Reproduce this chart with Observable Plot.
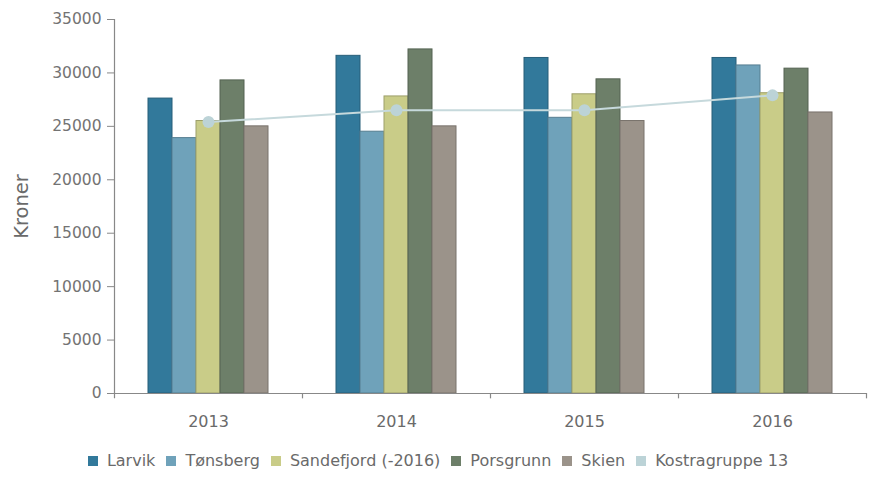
<!DOCTYPE html>
<html>
<head>
<meta charset="utf-8">
<script src="https://cdn.jsdelivr.net/npm/d3@7"></script>
<script src="https://cdn.jsdelivr.net/npm/@observablehq/plot@0.6"></script>
<style>
  body { margin: 0; background: #fff; font-family: "DejaVu Sans", sans-serif; }
  #chart svg { display: block; }
  #legend { display: flex; justify-content: center; align-items: center; gap: 11px; font-size: 16px; line-height: 18px; color: #6a6a6a; margin-top: 12px; }
  #legend .item { display: flex; align-items: center; gap: 9px; }
  #legend .sw { width: 10px; height: 10px; display: inline-block; }
</style>
</head>
<body>
<div id="chart"></div>
<div id="legend"></div>
<script>
const years = ["2013", "2014", "2015", "2016"];
const series = ["Larvik", "Tønsberg", "Sandefjord (-2016)", "Porsgrunn", "Skien"];
const colors = ["#32799b", "#6fa2ba", "#c9cc88", "#6d7f69", "#9b938a"];
const larvik     = [27600, 31600, 31400, 31400];
const tonsberg   = [23900, 24500, 25800, 30700];
const sandefjord = [25500, 27800, 28000, 28100];
const porsgrunn  = [29300, 32200, 29400, 30400];
const skien      = [25000, 25000, 25500, 26300];
const kostraName = "Kostragruppe 13";
const kostraColor = "#bcd3d7";
const kostra     = [25400, 26500, 26500, 27900];
const yTicks = [0, 5000, 10000, 15000, 20000, 25000, 30000, 35000];
const yLabel = "Kroner";

const seriesValues = [larvik, tonsberg, sandefjord, porsgrunn, skien];
const bars = seriesValues.map((vals, i) => years.map((y, j) => ({year: y, series: series[i], value: vals[j]})));
const kostraData = years.map((y, j) => ({year: y, value: kostra[j]}));

const W = 876, H = 440;
const mL = 114, mR = 10, mT = 19, mB = 47;
const band = (W - mL - mR) / years.length;
const barW = 24;
const inset = (band - barW) / 2;
const font = "'DejaVu Sans', sans-serif";

const marks = [];
bars.forEach((data, i) => {
  marks.push(Plot.barY(data, {
    x: "year", y: "value",
    fill: colors[i],
    stroke: d3.color(colors[i]).darker(0.7).formatHex(),
    strokeWidth: 1,
    insetLeft: inset, insetRight: inset,
    dx: (i - 2) * barW
  }));
});
marks.push(Plot.ruleY([0], {stroke: "#888", strokeWidth: 1.2}));
marks.push(Plot.ruleX(years, {x: d => d, dx: -band / 2, y1: -500, y2: d => d === years[0] ? 35000 : 0, stroke: "#888", strokeWidth: 1.2}));
marks.push(Plot.ruleX([years[years.length - 1]], {x: d => d, dx: band / 2, y1: -500, y2: 0, stroke: "#888", strokeWidth: 1.2}));
marks.push(Plot.axisY({ticks: yTicks, tickSize: 7, tickPadding: 6, fontSize: 15.5, label: null, color: "#737373", stroke: "#888", tickFormat: d => String(d)}));
marks.push(Plot.axisX({tickSize: 0, tickPadding: 22, fontSize: 16, label: null, color: "#6a6a6a"}));
marks.push(Plot.line(kostraData, {x: "year", y: "value", stroke: "#c6d9dc", strokeWidth: 2}));
marks.push(Plot.dot(kostraData, {x: "year", y: "value", r: 6, fill: kostraColor, stroke: "none"}));
marks.push(Plot.text([yLabel], {frameAnchor: "left", dx: -93, rotate: -90, textAnchor: "middle", fontSize: 19.5, fill: "#6a6a6a", text: d => d}));

const chart = Plot.plot({
  width: W, height: H,
  marginLeft: mL, marginRight: mR, marginTop: mT, marginBottom: mB,
  style: {fontFamily: font, background: "#fff", overflow: "visible"},
  x: {type: "band", domain: years, padding: 0},
  y: {domain: [0, 35000]},
  marks
});
document.getElementById("chart").appendChild(chart);

const legend = document.getElementById("legend");
const items = series.map((s, i) => [s, colors[i]]).concat([[kostraName, kostraColor]]);
for (const [name, c] of items) {
  const it = document.createElement("span");
  it.className = "item";
  const sw = document.createElement("span");
  sw.className = "sw";
  sw.style.background = c;
  it.appendChild(sw);
  it.appendChild(document.createTextNode(name));
  legend.appendChild(it);
}
</script>
</body>
</html>
